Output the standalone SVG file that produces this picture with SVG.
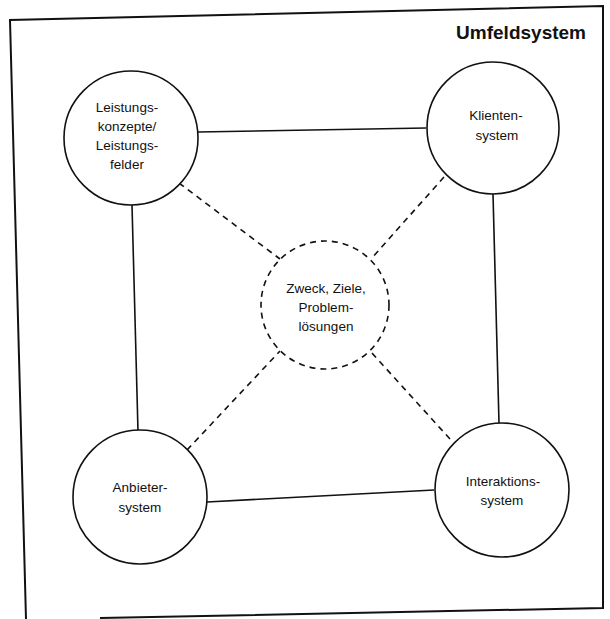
<svg xmlns="http://www.w3.org/2000/svg" width="610" height="619" viewBox="0 0 610 619">
<style>
.frame{fill:none;stroke:#111;stroke-width:2}
.node{fill:#fff;stroke:#111;stroke-width:1.6}
.dnode{fill:#fff;stroke:#111;stroke-width:1.6;stroke-dasharray:6 5}
.solid{stroke:#111;stroke-width:1.6;fill:none}
.dash{stroke:#111;stroke-width:1.6;fill:none;stroke-dasharray:6 5}
text{font-family:"Liberation Sans",Arial,sans-serif;font-size:13.5px;fill:#111;text-anchor:middle}
.title{font-size:19px;font-weight:bold;text-anchor:end}
</style>
<rect width="610" height="619" fill="#fff"/>
<g id="frame">
<path class="frame" d="M26,619 L10,20 L603,6 L603,608 L100,618"/>
<text class="title" x="586" y="39">Umfeldsystem</text>
</g>
<g id="connectors">
<line class="solid" x1="198" y1="132" x2="426" y2="128"/>
<line class="solid" x1="132" y1="205" x2="138" y2="431"/>
<line class="solid" x1="493" y1="194" x2="499" y2="423"/>
<line class="solid" x1="207" y1="502" x2="434" y2="490"/>
<line class="dash" x1="179" y1="183" x2="280" y2="259"/>
<line class="dash" x1="444" y1="177" x2="371" y2="259"/>
<line class="dash" x1="187" y1="450" x2="280" y2="351"/>
<line class="dash" x1="450" y1="439" x2="371" y2="352"/>
</g>
<g id="n-leistung">
<circle class="node" cx="131" cy="138" r="67"/>
<text x="127" y="112">Leistungs-</text>
<text x="127" y="131">konzepte/</text>
<text x="127" y="150">Leistungs-</text>
<text x="127" y="169">felder</text>
</g>
<g id="n-klienten">
<circle class="node" cx="493" cy="128" r="66"/>
<text x="496" y="120">Klienten-</text>
<text x="497" y="140">system</text>
</g>
<g id="n-zweck">
<circle class="dnode" cx="325" cy="305" r="64"/>
<text x="326" y="293">Zweck, Ziele,</text>
<text x="326" y="312">Problem-</text>
<text x="326" y="331">lösungen</text>
</g>
<g id="n-anbieter">
<circle class="node" cx="140" cy="497" r="67"/>
<text x="140" y="492">Anbieter-</text>
<text x="140" y="512">system</text>
</g>
<g id="n-interaktion">
<circle class="node" cx="502" cy="490" r="67"/>
<text x="503" y="486">Interaktions-</text>
<text x="502" y="505">system</text>
</g>
</svg>
